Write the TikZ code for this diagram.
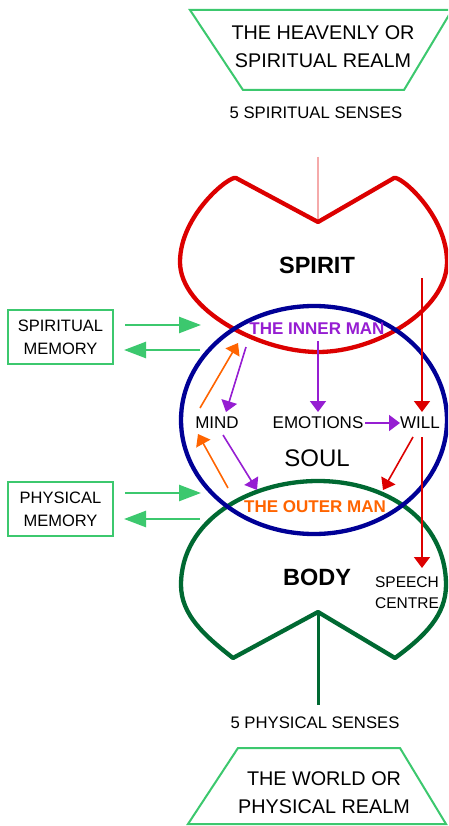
\documentclass[tikz,border=0pt]{standalone}
\usepackage{fontspec}
\setmainfont{Liberation Sans}
\usetikzlibrary{arrows.meta}
\definecolor{redc}{RGB}{220,0,0}
\definecolor{bluec}{RGB}{0,0,150}
\definecolor{dgreen}{RGB}{0,105,50}
\definecolor{lgreen}{RGB}{60,200,110}
\definecolor{purplec}{RGB}{150,30,210}
\definecolor{orangec}{RGB}{255,100,0}
\definecolor{pinkc}{RGB}{245,170,170}
\begin{document}
\begin{tikzpicture}[x=1pt,y=-1pt,
  lbl/.style={inner sep=0pt, font=\fontsize{17}{21}\selectfont},
  biglbl/.style={inner sep=0pt, font=\fontsize{24}{28}\selectfont},
  bigbold/.style={inner sep=0pt, font=\bfseries\fontsize{23.5}{28}\selectfont},
  realm/.style={inner sep=0pt, align=center, font=\fontsize{19.8}{28}\selectfont},
  sense/.style={inner sep=0pt, font=\fontsize{16.7}{20}\selectfont},
  manlbl/.style={inner sep=0pt, font=\bfseries\fontsize{17}{20}\selectfont},
  memb/.style={draw=lgreen, line width=2.5pt, minimum width=105pt, minimum height=54pt, align=center, inner sep=0pt, font=\fontsize{16.5}{23}\selectfont},
  garrow/.style={draw=lgreen, line width=2.5pt, -{Triangle[length=22pt,width=16pt]}},
  arr/.style={line width=1.6pt, -{Triangle[length=11pt,width=16pt]}},
  trap/.style={draw=lgreen, line width=2pt},
  shapeline/.style={line width=4.3pt, line join=round}
]
\clip (0,0) rectangle (448,826);
\fill[white] (0,0) rectangle (448,826);

% realms
\draw[trap] (190,10) -- (452,10) -- (404,90) -- (243,90) -- cycle;
\node[realm] (heaven) at (323,47) {THE HEAVENLY OR\\SPIRITUAL REALM};
\node[sense] (ssenses) at (316,113) {5 SPIRITUAL SENSES};

\draw[trap] (238,748) -- (400,748) -- (446,824) -- (188,824) -- cycle;
\node[realm] (world) at (324,793) {THE WORLD OR\\PHYSICAL REALM};
\node[sense] (psenses) at (315,723) {5 PHYSICAL SENSES};

% connector coordinates
\coordinate (snotchtop) at (318,157);
\coordinate (snotch) at (318,222);
\coordinate (bnotch) at (318,612);
\coordinate (bnotchbot) at (318,705);

\draw[pinkc, line width=1.5pt] (snotchtop) -- (snotch);
\draw[dgreen, line width=3pt] (bnotch) -- (bnotchbot);

% spirit shape
\draw[redc, shapeline] (snotch) -- (236,178)
  .. controls (230,175) and (180,215) .. (180,262)
  .. controls (180,310) and (260,352) .. (318,352)
  .. controls (376,352) and (447,310) .. (447,262)
  .. controls (447,215) and (400,175) .. (394,178) -- cycle;

% body shape
\draw[dgreen, shapeline] (bnotch) -- (233,658)
  .. controls (205,636) and (181,615) .. (181,585)
  .. controls (181,520) and (250,481) .. (318,481)
  .. controls (386,481) and (446,520) .. (446,585)
  .. controls (446,615) and (425,636) .. (395,658) -- cycle;

% soul
\draw[bluec, shapeline] (314,420) ellipse [x radius=133, y radius=114];

% labels
\node[bigbold] (spirit) at (317,265) {SPIRIT};
\node[bigbold] (body) at (317,577) {BODY};
\node[biglbl] (soul) at (317,458) {SOUL};
\node[manlbl, text=purplec] (inner) at (317,329) {THE INNER MAN};
\node[manlbl, text=orangec] (outer) at (315,507) {THE OUTER MAN};
\node[lbl] (mind) at (217,423) {MIND};
\node[lbl] (emo) at (318,423) {EMOTIONS};
\node[lbl] (will) at (420,423) {WILL};
\node[inner sep=0pt, align=center, font=\fontsize{15.5}{21}\selectfont] (speech) at (407,593) {SPEECH\\CENTRE};

% memory boxes
\node[memb] (smem) at (60.5,337) {SPIRITUAL\\MEMORY};
\node[memb] (pmem) at (60.5,509) {PHYSICAL\\MEMORY};

\coordinate (sa1) at (125,325); \coordinate (sa2) at (201,325);
\coordinate (sb1) at (200,350); \coordinate (sb2) at (124,350);
\coordinate (pa1) at (125,493); \coordinate (pa2) at (201,493);
\coordinate (pb1) at (200,519); \coordinate (pb2) at (124,519);
\draw[garrow] (sa1) -- (sa2);
\draw[garrow] (sb1) -- (sb2);
\draw[garrow] (pa1) -- (pa2);
\draw[garrow] (pb1) -- (pb2);

% inner arrows
\coordinate (inS) at (318,341);
\coordinate (inSW) at (246,347);
\coordinate (inSWo) at (238,343);
\coordinate (mindN) at (226,412);
\coordinate (mindNW) at (200,408);
\coordinate (mindSW) at (198,434);
\coordinate (mindS) at (223,435);
\coordinate (outNW) at (228,488);
\coordinate (outNWp) at (257,490);
\coordinate (outNE) at (383,490);
\coordinate (emoN) at (318,412);
\coordinate (emoE) at (365,423);
\coordinate (willW) at (400,423);
\coordinate (willSW) at (413,437);
\coordinate (spiritR) at (422,278);
\coordinate (willN) at (422,412);
\coordinate (willS) at (422,437);
\coordinate (speechN) at (422,568);

\draw[arr, purplec] (inS) -- (emoN);
\draw[arr, purplec] (inSW) -- (mindN);
\draw[arr, purplec] (mindS) -- (outNWp);
\draw[arr, purplec] (emoE) -- (willW);
\draw[arr, orangec] (mindNW) -- (inSWo);
\draw[arr, orangec] (outNW) -- (mindSW);
\draw[arr, redc] (willSW) -- (outNE);
\draw[arr, redc] (spiritR) -- (willN);
\draw[arr, redc] (willS) -- (speechN);
\end{tikzpicture}
\end{document}
